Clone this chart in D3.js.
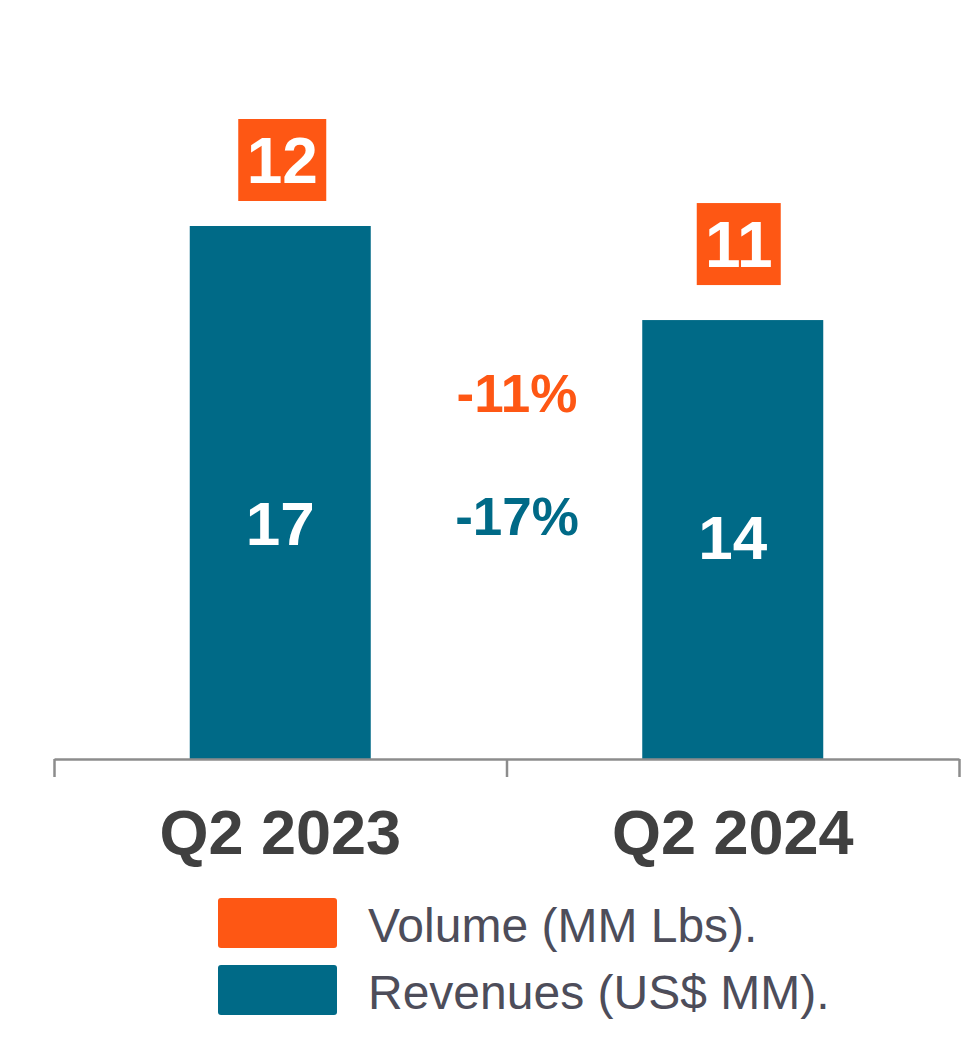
<!DOCTYPE html>
<html>
<head>
<meta charset="utf-8">
<script src="https://cdn.jsdelivr.net/npm/d3@7"></script>
<style>
  body { margin: 0; background: #fff; }
  svg { display: block; font-family: Arial, "Liberation Sans", sans-serif; }
</style>
</head>
<body>
<div id="chart"></div>
<script>
// data
const categories = ["Q2 2023", "Q2 2024"];
const revenues = [17, 14];     // US$ MM, teal bars
const volumes = [12, 11];      // MM Lbs, orange boxes
const changes = ["-11%", "-17%"]; // volume, revenue change
const legendLabels = ["Volume (MM Lbs).", "Revenues (US$ MM)."];

const orange = "#fe5714", teal = "#006a87";

const svgWidth = 974, svgHeight = 1039;
const svg = d3.select("#chart").append("svg")
  .attr("width", svgWidth)
  .attr("height", svgHeight);

const axisY = 759;
const x = d3.scaleBand().domain(categories).range([54, 959]).padding(0);
const y = d3.scaleLinear().domain([0, 17]).range([axisY, 226]);
const barW = x.bandwidth() * 0.4;
const cx = d => x(d) + x.bandwidth() / 2;

// bars
svg.selectAll(".bar")
  .data(categories)
  .enter().append("rect")
    .attr("class", "bar")
    .attr("x", d => cx(d) - barW / 2)
    .attr("y", (d, i) => y(revenues[i]))
    .attr("width", barW)
    .attr("height", (d, i) => axisY - y(revenues[i]))
    .attr("fill", teal);

// value labels inside bars (placed a bit differently in the original)
const innerOffset = [0.557, 0.494];
svg.selectAll(".rev-label")
  .data(categories)
  .enter().append("text")
    .attr("x", cx)
    .attr("y", (d, i) => y(revenues[i]) + (axisY - y(revenues[i])) * innerOffset[i] + 22)
    .attr("text-anchor", "middle")
    .attr("fill", "#fff")
    .attr("font-weight", "bold")
    .attr("font-size", 62)
    .text((d, i) => revenues[i]);

// volume boxes above bars
const boxW = [88, 84], boxH = 82, boxGap = [25, 35], boxShift = [2, 6];
const vol = svg.selectAll(".vol")
  .data(categories)
  .enter().append("g")
    .attr("class", "vol");
vol.append("rect")
  .attr("x", (d, i) => cx(d) - boxW[i] / 2 + boxShift[i])
  .attr("y", (d, i) => y(revenues[i]) - boxGap[i] - boxH)
  .attr("width", (d, i) => boxW[i])
  .attr("height", boxH)
  .attr("fill", orange);
vol.append("text")
  .attr("x", (d, i) => cx(d) + boxShift[i])
  .attr("y", (d, i) => y(revenues[i]) - boxGap[i] - boxH / 2 + 23)
  .attr("text-anchor", "middle")
  .attr("fill", "#fff")
  .attr("font-weight", "bold")
  .attr("font-size", 64)
  .text((d, i) => volumes[i]);

// change labels between the bars
const midX = 517;
svg.append("text")
  .attr("x", midX).attr("y", 412)
  .attr("text-anchor", "middle")
  .attr("fill", orange)
  .attr("font-weight", "bold")
  .attr("font-size", 53)
  .text(changes[0]);
svg.append("text")
  .attr("x", midX).attr("y", 535)
  .attr("text-anchor", "middle")
  .attr("fill", teal)
  .attr("font-weight", "bold")
  .attr("font-size", 53)
  .text(changes[1]);

// axis line with ticks at the band edges
const edges = d3.scaleLinear().domain([0, categories.length]).range(x.range());
svg.append("g")
  .attr("transform", "translate(0," + axisY + ")")
  .call(d3.axisBottom(edges).tickValues([0, 1, 2]).tickSizeInner(18).tickSizeOuter(0).tickFormat(""))
  .call(g => g.selectAll("path, line").attr("stroke", "#8c8c8c").attr("stroke-width", 2.5));

// category labels
svg.append("g")
  .attr("transform", "translate(0," + axisY + ")")
  .call(d3.axisBottom(x).tickSize(0).tickPadding(0))
  .call(g => g.select(".domain").remove())
  .call(g => g.selectAll("text")
    .attr("dy", null)
    .attr("y", 95)
    .attr("font-family", "Arial, 'Liberation Sans', sans-serif")
    .attr("font-size", 63)
    .attr("font-weight", "bold")
    .attr("fill", "#404040"));

// legend
const legend = svg.selectAll(".legend")
  .data(legendLabels)
  .enter().append("g")
    .attr("class", "legend")
    .attr("transform", (d, i) => "translate(218," + (898 + i * 67) + ")");
legend.append("rect")
  .attr("width", 119).attr("height", 50)
  .attr("rx", 3)
  .attr("fill", (d, i) => i === 0 ? orange : teal);
legend.append("text")
  .attr("x", 150).attr("y", 44)
  .attr("fill", "#4d4d5a")
  .attr("font-size", 48)
  .text(d => d);
</script>
</body>
</html>
